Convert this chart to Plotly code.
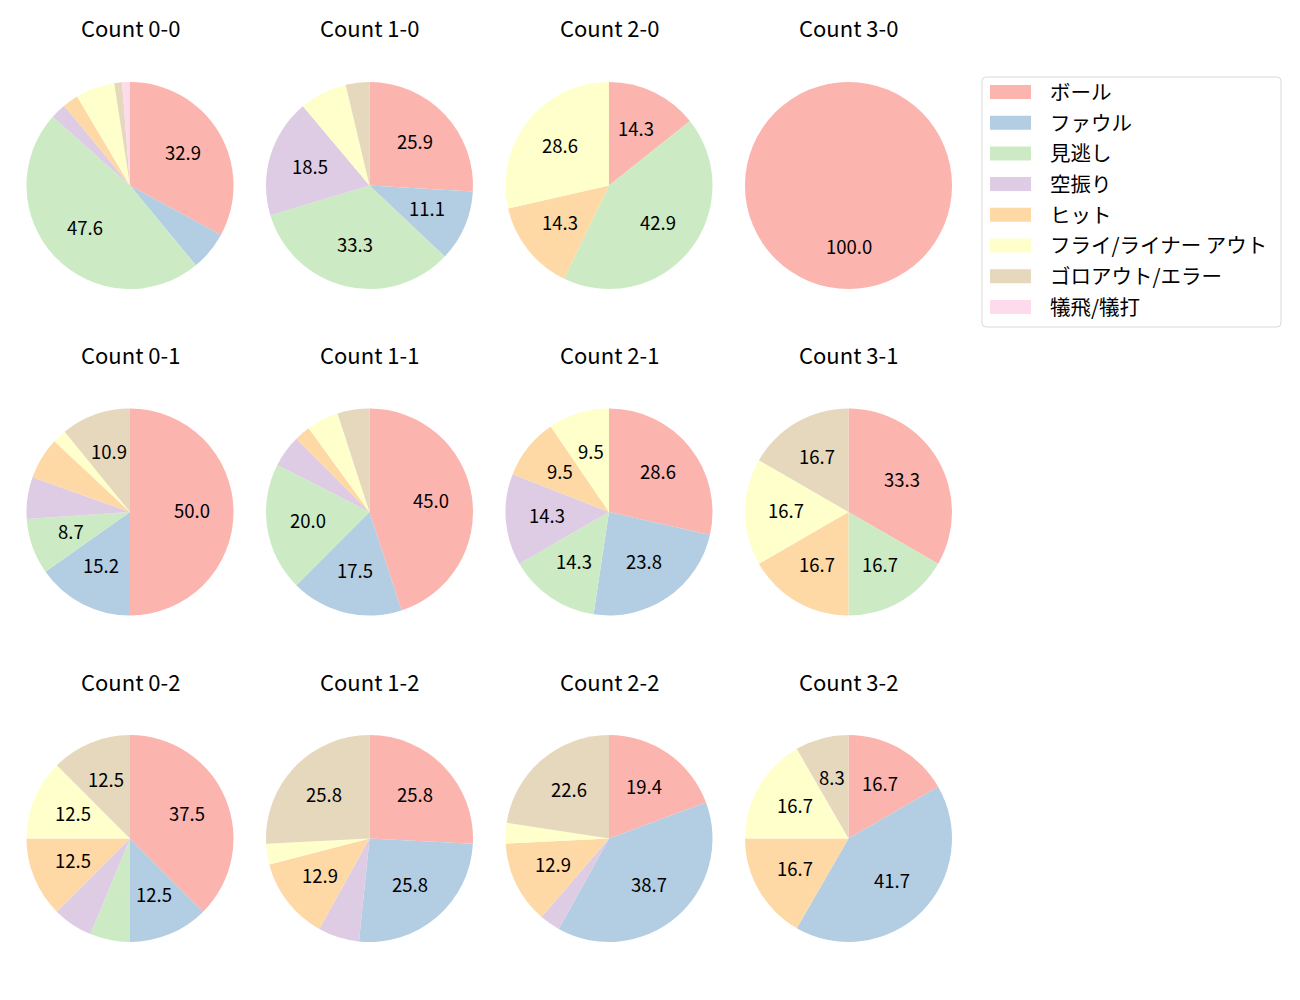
import math
import plotly.graph_objects as go

labels = ["ボール", "ファウル", "見逃し", "空振り", "ヒット",
          "フライ/ライナー アウト", "ゴロアウト/エラー", "犠飛/犠打"]
colors = ["#fbb4ae", "#b3cde3", "#ccebc5", "#decbe4", "#fed9a6",
          "#ffffcc", "#e5d8bd", "#fddaec"]

titles = [["Count 0-0", "Count 1-0", "Count 2-0", "Count 3-0"],
          ["Count 0-1", "Count 1-1", "Count 2-1", "Count 3-1"],
          ["Count 0-2", "Count 1-2", "Count 2-2", "Count 3-2"]]

c00 = [27, 5, 39, 2, 2, 5, 1, 1]
c10 = [7, 3, 9, 5, 0, 2, 1, 0]
c20 = [1, 0, 3, 0, 1, 2, 0, 0]
c30 = [1, 0, 0, 0, 0, 0, 0, 0]
c01 = [23, 7, 4, 3, 3, 1, 5, 0]
c11 = [18, 7, 8, 2, 1, 2, 2, 0]
c21 = [6, 5, 3, 3, 2, 2, 0, 0]
c31 = [2, 0, 1, 0, 1, 1, 1, 0]
c02 = [6, 2, 1, 1, 2, 2, 2, 0]
c12 = [8, 8, 0, 2, 4, 1, 8, 0]
c22 = [6, 12, 0, 1, 4, 1, 7, 0]
c32 = [2, 5, 0, 0, 2, 2, 1, 0]

grid = [[c00, c10, c20, c30],
        [c01, c11, c21, c31],
        [c02, c12, c22, c32]]

W, H = 1300, 1000
col_cx = [130, 369.5, 609, 848.5]
row_cy = [185.5, 512, 838.5]
R = 103.5
TITLE_OFF = 158
FONT = "Noto Sans CJK JP"
LABEL_MIN = 8.0
LABEL_DY = -2


def px(x):
    return x / W


def py(y):
    return 1 - y / H


fig = go.Figure()
annotations = []
shapes = []

for r, row in enumerate(grid):
    for c, vals in enumerate(row):
        cx, cy = col_cx[c], row_cy[r]
        fig.add_trace(go.Pie(
            labels=labels, values=vals, sort=False, direction="clockwise",
            rotation=0, marker=dict(colors=colors, line=dict(width=0)),
            textinfo="none", hoverinfo="label+percent", showlegend=False,
            domain=dict(x=[px(cx - R), px(cx + R)], y=[py(cy + R), py(cy - R)]),
        ))
        annotations.append(dict(
            text=titles[r][c], x=px(cx), y=py(cy - TITLE_OFF), xref="paper",
            yref="paper", showarrow=False, xanchor="center", yanchor="middle",
            font=dict(family=FONT, size=22, color="#000000")))
        total = sum(vals)
        cum = 0.0
        for v in vals:
            if v <= 0:
                continue
            pct = 100.0 * v / total
            mid = (cum + v / 2) / total * 2 * math.pi
            cum += v
            if pct < LABEL_MIN:
                continue
            tx = cx + 0.6 * R * math.sin(mid)
            ty = cy - 0.6 * R * math.cos(mid) + LABEL_DY
            annotations.append(dict(
                text=f"{pct:.1f}", x=px(tx), y=py(ty), xref="paper",
                yref="paper", showarrow=False, xanchor="center",
                yanchor="middle",
                font=dict(family=FONT, size=18.5, color="#000000")))

# legend box
LX0, LY0, LX1, LY1 = 982, 77, 1281, 327
rad = 4
path = (f"M {px(LX0+rad)},{py(LY0)} L {px(LX1-rad)},{py(LY0)} "
        f"Q {px(LX1)},{py(LY0)} {px(LX1)},{py(LY0+rad)} "
        f"L {px(LX1)},{py(LY1-rad)} Q {px(LX1)},{py(LY1)} {px(LX1-rad)},{py(LY1)} "
        f"L {px(LX0+rad)},{py(LY1)} Q {px(LX0)},{py(LY1)} {px(LX0)},{py(LY1-rad)} "
        f"L {px(LX0)},{py(LY0+rad)} Q {px(LX0)},{py(LY0)} {px(LX0+rad)},{py(LY0)} Z")
shapes.append(dict(type="path", path=path, xref="paper", yref="paper",
                   line=dict(color="#d9d9d9", width=1), fillcolor="rgba(255,255,255,0.8)"))
ROW0, ROWSTEP = 92, 30.7
for i, (lab, col) in enumerate(zip(labels, colors)):
    yc = ROW0 + i * ROWSTEP
    shapes.append(dict(type="rect", xref="paper", yref="paper",
                       x0=px(990), x1=px(1031), y0=py(yc - 7), y1=py(yc + 7),
                       fillcolor=col, line=dict(width=0)))
    annotations.append(dict(
        text=lab, x=px(1048), y=py(yc - 1), xref="paper", yref="paper",
        showarrow=False, xanchor="left", yanchor="middle",
        font=dict(family=FONT, size=20.5, color="#000000")))

fig.update_layout(
    width=W, height=H, margin=dict(l=0, r=0, t=0, b=0),
    paper_bgcolor="white", plot_bgcolor="white",
    annotations=annotations, shapes=shapes, showlegend=False,
    font=dict(family=FONT),
)
fig.write_html("out.html")
